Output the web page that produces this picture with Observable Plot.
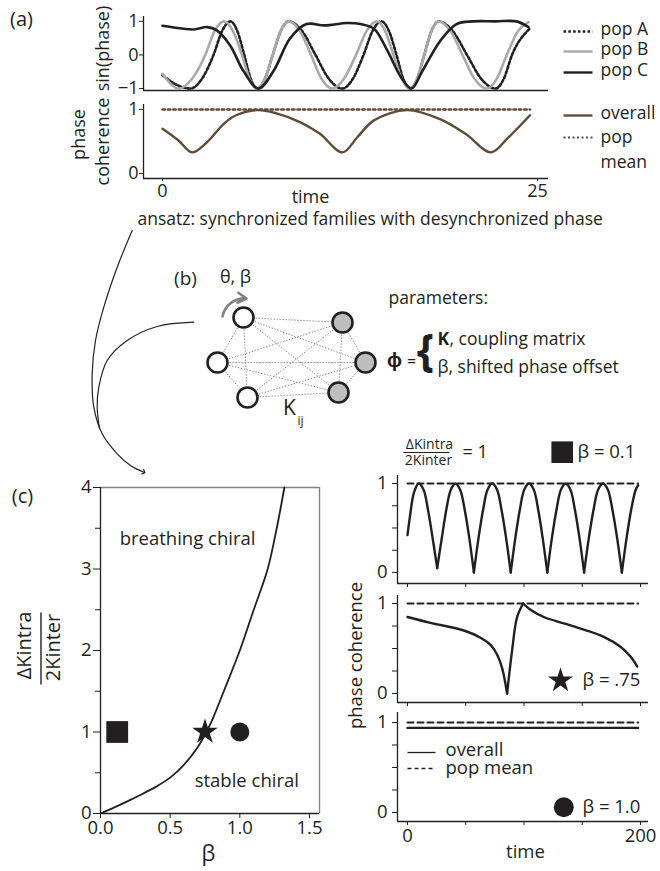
<!DOCTYPE html>
<html><head><meta charset="utf-8">
<script src="https://cdn.jsdelivr.net/npm/d3@7"></script>
<script src="https://cdn.jsdelivr.net/npm/@observablehq/plot@0.6"></script>
<style>
body{margin:0;background:#fff;}
#root{position:relative;width:660px;height:871px;overflow:hidden;background:#fff;}
#root svg{position:absolute;overflow:visible;}
</style></head><body><div id="root"></div>
<script>
// ================= DATA =================
// (a) sin(phase) of each population: [time, value]
const popA = [[0,-0.6],[0.9,-0.88],[1.87,-1],[2.63,-0.71],[3.4,0],[3.97,0.71],[4.53,1],[4.99,0.71],[5.45,0],[5.88,-0.71],[6.31,-1],[6.83,-0.71],[7.35,0],[7.88,0.71],[8.42,1],[9.31,0.71],[10.2,0],[11.09,-0.71],[11.98,-1],[12.69,-0.71],[13.4,0],[14.0,0.71],[14.6,1],[15.1,0.71],[15.6,0],[16.05,-0.71],[16.5,-1],[16.98,-0.71],[17.45,0],[17.93,0.71],[18.4,1],[19.35,0.71],[20.3,0],[21.25,-0.71],[22.2,-1],[22.75,-0.71],[23.3,0],[24.5,0.79]];
const popB = [[0,-0.56],[1.09,-1],[1.97,-0.71],[2.85,0],[3.47,0.71],[4.09,1],[4.7,0.71],[5.3,0],[5.8,-0.71],[6.31,-1],[6.83,-0.71],[7.35,0],[7.88,0.71],[8.42,1],[9.16,0.71],[9.9,0],[10.6,-0.71],[11.3,-1],[12.1,-0.71],[12.9,0],[13.6,0.71],[14.3,1],[14.85,0.71],[15.4,0],[15.95,-0.71],[16.5,-1],[16.98,-0.71],[17.45,0],[17.93,0.71],[18.4,1],[19.2,0.71],[20.0,0],[20.8,-0.71],[21.6,-1],[22.28,-0.71],[22.95,0],[23.7,0.71],[24.4,0.98]];
const popC = [[0,0.87],[1.4,0.78],[2.1,0.76],[3.0,0.83],[3.6,0.74],[4.5,0.29],[5.4,-0.48],[6.4,-1],[7.4,-0.48],[8.5,0.49],[9.6,0.92],[10.8,0.88],[12.3,0.95],[13.2,0.92],[14.1,0.78],[15.0,0.12],[15.9,-0.66],[16.6,-1],[17.3,-0.5],[18.5,0.41],[19.6,0.92],[20.7,1],[22.2,1],[23.6,1],[24.4,0.83]];
// (a) phase coherence
const coherenceOverall = [[0,0.70],[1.05,0.52],[1.97,0.33],[2.97,0.49],[4.1,0.78],[4.9,0.91],[6.3,0.99],[7.6,0.94],[9.2,0.80],[10.5,0.62],[12.0,0.33],[13.0,0.57],[14.1,0.83],[16.3,0.99],[18.5,0.85],[20.2,0.62],[21.9,0.33],[23.0,0.55],[24.5,0.91]];
const coherencePopMean = [[0,1],[24.5,1]];
const aSinTicks = [-1,0,1];
const aCohTicks = [0,1];
const aTimeTicks = [0,25];
const aLegend = ["pop A","pop B","pop C"];
const aLegend2 = ["overall","pop","mean"];

// (c) left: stability boundary [beta, dKintra/2Kinter]
const boundary = [[0,0],[0.1,0.075],[0.2,0.155],[0.3,0.24],[0.4,0.33],[0.5,0.44],[0.6,0.6],[0.7,0.82],[0.75,0.97],[0.8,1.14],[0.885,1.5],[1.0,2.0],[1.1,2.5],[1.2,3.0],[1.265,3.5],[1.32,4]];
const markerBeta = [0.12, 0.75, 1.0];
const markerRatio = [1, 1, 1];
const cYTicks = [0,1,2,3,4];
const cYMinor = [0.5,1.5,2.5,3.5];
const cXTicks = [0,0.5,1,1.5];
const regionLabels = [{beta:0.625, ratio:3.37, text:"breathing chiral"},{beta:1.05, ratio:0.40, text:"stable chiral"}];

// (c) right: phase coherence over time [time, value, segment]
const cohBeta01 = [
 [0,0.42,0],[2,0.62,0],[5.6,0.9,0],[9.7,1,0],[13.8,0.93,0],[17.4,0.72,0],[21.4,0.4,0],[25.5,0.05,0],
 [25.5,0.05,1],[29.6,0.4,1],[33.5,0.72,1],[37.2,0.93,1],[41.2,1,1],[45.2,0.93,1],[48.9,0.72,1],[52.9,0.4,1],[57,0,1],
 [57,0,2],[61.1,0.4,2],[65.1,0.72,2],[68.7,0.93,2],[72.8,1,2],[76.9,0.93,2],[80.5,0.72,2],[84.5,0.4,2],[88.6,0,2],
 [88.6,0,3],[92.7,0.4,3],[96.6,0.72,3],[100.2,0.93,3],[104.3,1,3],[108.4,0.93,3],[112,0.72,3],[115.9,0.4,3],[120,0,3],
 [120,0,4],[124.1,0.4,4],[128.1,0.72,4],[131.7,0.93,4],[135.8,1,4],[139.9,0.93,4],[143.5,0.72,4],[147.5,0.4,4],[151.6,0,4],
 [151.6,0,5],[155.8,0.4,5],[159.9,0.72,5],[163.6,0.93,5],[167.8,1,5],[172,0.93,5],[175.7,0.72,5],[179.8,0.4,5],[184,0,5],
 [184,0,6],[188.2,0.4,6],[192.2,0.72,6],[195.9,0.93,6],[198,0.98,6]
];
const cohBeta075 = [
 [0,0.85,0],[19.7,0.785,0],[48.4,0.70,0],[62.7,0.62,0],[71.3,0.54,0],[77,0.43,0],[81.3,0.28,0],[85.5,0,0],
 [85.5,0,1],[89.8,0.48,1],[94.1,0.85,1],[99.3,1,1],
 [99.3,1,2],[105.6,0.93,2],[117,0.85,2],[134.2,0.78,2],[151.4,0.71,2],[168.5,0.63,2],[182.8,0.52,2],[191.4,0.41,2],[197.2,0.30,2]
];
const cohBeta10 = [[0,0.94],[198,0.94]];
const cohPopMean = [[0,1],[198,1]];
const rTimeTicks = [0,50,100,150,200];
const rTimeLabels = [0,200];
const rCohTicks = [0,1];
const rCohMinor = [0.25,0.5,0.75];

// ================= STYLE / LAYOUT =================
const FONT = "'Open Sans', sans-serif";
const INK = "#231f20", GRAY = "#a7a9ac", BROWN = "#5f4b38", FRAMEGRAY = "#808285";
const root = document.getElementById("root");
const baseStyle = {background:"transparent", fontFamily:FONT, color:INK, overflow:"visible"};
function place(svg, left, top){ svg.style.left = left+"px"; svg.style.top = top+"px"; root.appendChild(svg); }
const px = (d)=>d[0], py = (d)=>d[1], pz = (d)=>d[2];
const intFmt = (d)=> d<0 ? "\u2212"+Math.abs(d) : String(d);

// ---- (a) top: sin(phase)
place(Plot.plot({
  width:660, height:100, marginLeft:143, marginRight:112, marginTop:16, marginBottom:10,
  x:{domain:[-1.267,25.733], axis:null}, y:{domain:[-1.058,1.145], axis:null},
  style:baseStyle,
  marks:[
    Plot.axisY(aSinTicks,{tickSize:4, tickPadding:1, fontSize:18, tickFormat:intFmt, label:null}),
    Plot.ruleX([-1.267],{stroke:INK, strokeWidth:1.3}),
    Plot.ruleY([-1.058],{stroke:INK, strokeWidth:1.3}),
    Plot.line(popA,{x:px, y:py, curve:"monotone-x", stroke:INK, strokeWidth:2.6, strokeDasharray:"2.6,2.2"}),
    Plot.line(popB,{x:px, y:py, curve:"monotone-x", stroke:GRAY, strokeWidth:2.6}),
    Plot.line(popC,{x:px, y:py, curve:"catmull-rom", stroke:INK, strokeWidth:2.6})
  ]
}), 0, 0);

// ---- (a) bottom: phase coherence
place(Plot.plot({
  width:660, height:110, marginLeft:143, marginRight:112, marginTop:4, marginBottom:32,
  x:{domain:[-1.267,25.733], axis:null}, y:{domain:[-0.078,1.078], axis:null},
  style:baseStyle,
  marks:[
    Plot.axisY(aCohTicks,{tickSize:4, tickPadding:1, fontSize:18, tickFormat:intFmt, label:null}),
    Plot.axisX(aTimeTicks,{tickSize:3, tickPadding:3, fontSize:18, tickFormat:intFmt, label:null}),
    Plot.ruleX([-1.267],{stroke:INK, strokeWidth:1.3}),
    Plot.ruleY([-0.078],{stroke:INK, strokeWidth:1.3}),
    Plot.line(coherencePopMean,{x:px, y:py, stroke:BROWN, strokeWidth:2.6, strokeDasharray:"2.4,3"}),
    Plot.line(coherenceOverall,{x:px, y:py, curve:"catmull-rom", stroke:BROWN, strokeWidth:2.4})
  ]
}), 0, 100);

// ---- (c) left: phase diagram
place(Plot.plot({
  width:660, height:401, marginLeft:100, marginRight:341, marginTop:17, marginBottom:58,
  x:{domain:[0,1.572], axis:null}, y:{domain:[0,4], axis:null},
  style:baseStyle,
  marks:[
    Plot.ruleY([4],{stroke:FRAMEGRAY, strokeWidth:1.3}),
    Plot.ruleX([1.572],{stroke:FRAMEGRAY, strokeWidth:1.3}),
    Plot.ruleX([0],{stroke:INK, strokeWidth:1.3}),
    Plot.ruleY([0],{stroke:INK, strokeWidth:1.3}),
    Plot.axisY(cYTicks,{tickSize:7, tickPadding:2, fontSize:18.5, tickFormat:intFmt, label:null}),
    Plot.axisY(cYMinor,{tickSize:5, tickFormat:()=>"", label:null}),
    Plot.axisX(cXTicks,{tickSize:5, tickPadding:2, fontSize:18.5, tickFormat:d3.format(".1f"), label:null}),
    Plot.line(boundary,{x:px, y:py, curve:"catmull-rom", stroke:INK, strokeWidth:1.8}),
    Plot.text(regionLabels,{x:"beta", y:"ratio", text:"text", fontSize:18.5}),
    Plot.dot([0],{x:i=>markerBeta[i], y:i=>markerRatio[i], symbol:"square", r:12.3, fill:INK}),
    Plot.dot([1],{x:i=>markerBeta[i], y:i=>markerRatio[i], symbol:"star", r:8, fill:INK}),
    Plot.dot([2],{x:i=>markerBeta[i], y:i=>markerRatio[i], symbol:"circle", r:9.5, fill:INK})
  ]
}), 0, 470);

// ---- (c) right: three coherence panels
function cohPanel(series, segmented, top, height, mTop, mBottom, yDomain, showLabels){
  const marks = [
    Plot.ruleX([-8.58],{stroke:INK, strokeWidth:1.3}),
    Plot.ruleY([yDomain[0]],{stroke:INK, strokeWidth:1.3}),
    Plot.axisY(rCohTicks,{tickSize:5, tickPadding:5, fontSize:18.5, tickFormat:intFmt, label:null}),
    Plot.axisY(rCohMinor,{tickSize:5, tickFormat:()=>"", label:null}),
    Plot.axisX(rTimeTicks,{tickSize:4, tickFormat:()=>"", label:null}),
    Plot.line(cohPopMean,{x:px, y:py, stroke:INK, strokeWidth:2, strokeDasharray:"6,4"}),
    segmented ? Plot.line(series,{x:px, y:py, z:pz, curve:"catmull-rom", stroke:INK, strokeWidth:2.4})
              : Plot.line(series,{x:px, y:py, stroke:INK, strokeWidth:2.4})
  ];
  if (showLabels) marks.push(Plot.axisX(rTimeLabels,{tickSize:0, tickPadding:7, fontSize:18.5, tickFormat:intFmt, label:null}));
  place(Plot.plot({
    width:660, height, marginLeft:397, marginRight:12, marginTop:mTop, marginBottom:mBottom,
    x:{domain:[-8.58,206.87], axis:null}, y:{domain:yDomain, axis:null},
    style:baseStyle, marks
  }), 0, top);
}
cohPanel(cohBeta01, true, 465, 130, 10, 12, [-0.124,1.09], false);
cohPanel(cohBeta075, true, 590, 120, 5, 8, [-0.1,1.089], false);
cohPanel(cohBeta10, false, 705, 166, 7, 50, [-0.1,1.111], true);

// ---- annotation layer (labels, legend, schematic, arrows)
const texts = [
  {t:"(a)", x:21, y:19, s:20},
  {t:"sin(phase)", x:103, y:48, s:18, r:-90},
  {t:"phase", x:79, y:134, s:18, r:-90},
  {t:"coherence", x:103, y:141, s:18, r:-90},
  {t:aLegend[0], x:600, y:29, s:17.5, a:"start"},
  {t:aLegend[1], x:600, y:49, s:17.5, a:"start"},
  {t:aLegend[2], x:600, y:70, s:17.5, a:"start"},
  {t:aLegend2[0], x:600, y:113, s:17.5, a:"start"},
  {t:aLegend2[1], x:600, y:137, s:17.5, a:"start"},
  {t:aLegend2[2], x:600, y:162, s:17.5, a:"start"},
  {t:"time", x:310, y:197, s:18},
  {t:"ansatz: synchronized families with desynchronized phase", x:137, y:219, s:17.5, a:"start"},
  {t:"(b)", x:185, y:278, s:19},
  {t:"θ, β", x:235, y:277, s:18},
  {t:"K", x:289, y:408, s:21},
  {t:"ij", x:300, y:421, s:12},
  {t:"parameters:", x:388, y:298, s:17.5, a:"start"},
  {t:"ϕ", x:394, y:360, s:20, w:"bold"},
  {t:"=", x:411, y:361, s:16},
  {t:"{", x:425, y:351, s:44, w:"bold"},
  {t:"K", x:437, y:339, s:17.5, a:"start", w:"bold"},
  {t:", coupling matrix", x:449, y:339, s:17.5, a:"start"},
  {t:"β, shifted phase offset", x:437, y:367, s:17.5, a:"start"},
  {t:"(c)", x:22, y:496, s:20},
  {t:"ΔKintra", x:24, y:645, s:20, r:-90},
  {t:"2Kinter", x:53, y:647, s:20, r:-90},
  {t:"β", x:208, y:853, s:22},
  {t:"ΔKintra", x:429, y:444, s:14},
  {t:"2Kinter", x:428, y:460, s:14},
  {t:"= 1", x:462, y:452, s:18, a:"start"},
  {t:"β = 0.1", x:577, y:452, s:18.5, a:"start"},
  {t:"β = .75", x:582, y:680, s:18.5, a:"start"},
  {t:"β = 1.0", x:582, y:807, s:18.5, a:"start"},
  {t:"phase coherence", x:356, y:655, s:18.5, r:-90},
  {t:"overall", x:445, y:750, s:18.5, a:"start"},
  {t:"pop mean", x:445, y:768, s:18.5, a:"start"},
  {t:"time", x:525, y:852, s:18.5}
];
const legendLines = [
  {x1:563, x2:592, y:31, stroke:INK, w:2.4, dash:"2.6,2.2"},
  {x1:563, x2:592, y:51, stroke:GRAY, w:2.4, dash:null},
  {x1:563, x2:592, y:72, stroke:INK, w:2.4, dash:null},
  {x1:563, x2:592, y:115, stroke:BROWN, w:2.4, dash:null},
  {x1:563, x2:592, y:137, stroke:BROWN, w:2.2, dash:"2,2.5"},
  {x1:407, x2:435, y:752, stroke:INK, w:1.3, dash:null},
  {x1:407, x2:435, y:768, stroke:INK, w:1.3, dash:"4,3"},
  {x1:403, x2:449, y:452, stroke:INK, w:1.2, dash:null},
  {x1:40.5, x2:40.5, y1:612, y2:684, stroke:INK, w:1.4, dash:null}
];
const nodes = [
  {x:243,y:317,fill:"white"},{x:217,y:362,fill:"white"},{x:247,y:397,fill:"white"},
  {x:342,y:322,fill:"#bcbec0"},{x:365,y:362,fill:"#bcbec0"},{x:338,y:392,fill:"#bcbec0"}
];
const edges = [];
for (let i=0;i<nodes.length;i++) for (let j=i+1;j<nodes.length;j++) edges.push({a:nodes[i], b:nodes[j]});
const arrowPath1 = [[131.7,230],[116.7,266.7],[103.3,306.7],[95,340],[91.7,373],[93.3,406.7],[101.7,433.3],[116.7,453.3],[130,465],[143.3,471.7]];
const arrowPath2 = [[193.3,321.7],[156.7,326],[126.7,340],[106.7,360],[98.3,386.7],[96.7,406.7],[99,428]];
const icons = [{x:561.7,y:451.7,symbol:"square",r:12.2},{x:560,y:680,symbol:"star",r:7.9},{x:563.3,y:806.7,symbol:"circle",r:10}];

const annMarks = [
  Plot.link(edges,{x1:d=>d.a.x, y1:d=>d.a.y, x2:d=>d.b.x, y2:d=>d.b.y, stroke:"#808285", strokeWidth:1, strokeDasharray:"1.3,1.7"}),
  Plot.dot(nodes,{x:"x", y:"y", r:10, fill:"fill", stroke:INK, strokeWidth:2.6}),
  Plot.arrow([0],{x1:222, y1:316, x2:246, y2:298, bend:42, stroke:"#808285", strokeWidth:2.6, headLength:6}),
  Plot.line(arrowPath1,{x:px, y:py, curve:"catmull-rom", stroke:INK, strokeWidth:1.2, markerEnd:"arrow"}),
  Plot.line(arrowPath2,{x:px, y:py, curve:"catmull-rom", stroke:INK, strokeWidth:1.2})
];
for (const L of legendLines) {
  annMarks.push(Plot.link([L],{x1:"x1", x2:"x2", y1:d=>d.y1 ?? d.y, y2:d=>d.y2 ?? d.y, stroke:L.stroke, strokeWidth:L.w, strokeDasharray:L.dash ?? undefined}));
}
for (const ic of icons) annMarks.push(Plot.dot([ic],{x:"x", y:"y", symbol:ic.symbol, r:ic.r, fill:INK}));
for (const T of texts) {
  annMarks.push(Plot.text([T],{x:"x", y:"y", text:"t", fontSize:T.s, textAnchor:T.a || "middle", rotate:T.r || 0, fontWeight:T.w || "normal", fontFamily:FONT, fill:INK}));
}
place(Plot.plot({
  width:660, height:871, margin:0,
  x:{domain:[0,660], range:[0,660], axis:null},
  y:{domain:[0,871], range:[0,871], axis:null},
  style:baseStyle, marks:annMarks
}), 0, 0);
</script></body></html>
